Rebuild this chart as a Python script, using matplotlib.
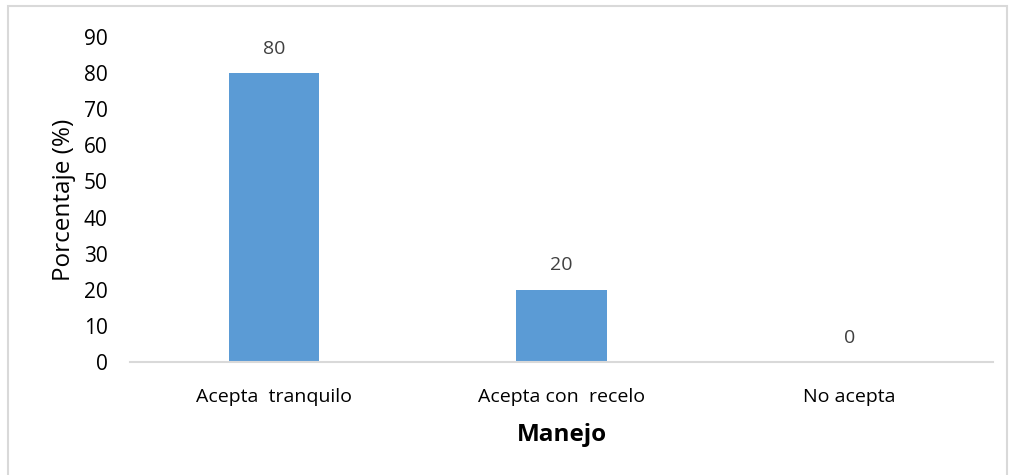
import matplotlib
matplotlib.use("Agg")
import matplotlib.pyplot as plt
from matplotlib.patches import Rectangle

# datos
categorias = ["Acepta  tranquilo", "Acepta con  recelo", "No acepta"]
porcentajes = [80, 20, 0]
yticks = [0, 10, 20, 30, 40, 50, 60, 70, 80, 90]

plt.rcParams['font.family'] = ['Open Sans', 'DejaVu Sans']

W, H = 1013, 475
fig = plt.figure(figsize=(W / 100, H / 100), dpi=100)
ax = fig.add_axes([130 / W, 1 - 362 / H, (993 - 130) / W, (362 - 37) / H])

x = range(len(categorias))
bars = ax.bar(x, porcentajes, width=0.313, color="#5B9BD5", zorder=2)
for b, v in zip(bars, porcentajes):
    ax.annotate(str(v), (b.get_x() + b.get_width() / 2, v), xytext=(0, 11),
                textcoords="offset points", ha="center", va="bottom",
                fontsize=14, color="#404040")

ax.set_xlim(-0.5, 2.5)
ax.set_ylim(0, 90)
ax.set_yticks(yticks)
ax.set_xticks(list(x))
ax.set_xticklabels(categorias, fontsize=14)
ax.tick_params(axis="y", labelsize=15, length=0, pad=16)
ax.tick_params(axis="x", length=0, pad=19)

for s in ["top", "right", "left"]:
    ax.spines[s].set_visible(False)
ax.spines["bottom"].set_color("#D9D9D9")
ax.spines["bottom"].set_linewidth(1.5)

ax.set_ylabel("Porcentaje (%)", fontsize=17.5, labelpad=6)
ax.set_xlabel("Manejo", fontsize=17.5, fontweight="bold", labelpad=12)

# marco del grafico
fig.patches.append(Rectangle((8 / W, -0.05), (1007 - 8) / W, 1.05 - 6 / H,
                             transform=fig.transFigure, fill=False,
                             edgecolor="#D9D9D9", linewidth=1.5))

fig.savefig("out.png", dpi=100)
